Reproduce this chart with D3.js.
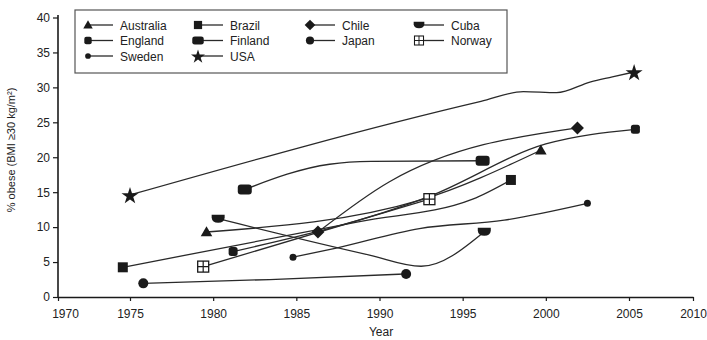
<!DOCTYPE html>
<html><head><meta charset="utf-8">
<script src="https://cdn.jsdelivr.net/npm/d3@7"></script>
<style>body{margin:0;background:#fff}svg{display:block}text{font-family:"Liberation Sans",Arial,sans-serif;fill:#222}</style>
</head><body>
<svg id="c" width="707" height="340"></svg>
<script>
// ---- data (year, % obese) ----
const countries = ["Australia","Brazil","Chile","Cuba","England","Finland","Japan","Norway","Sweden","USA"];
const markerTypes = ["triangle","square","diamond","cuba","england","finland","circle","norway","dot","star"];
const australia = [[1979.6,9.3],[1992.5,13.9],[1999.7,21.0]];
const brazil    = [[1974.5,4.25],[1988.8,10.8],[1995.6,14.0],[1997.9,16.75]];
const chile     = [[1986.3,9.3],[1990.6,16.5],[2001.9,24.2]];
const cuba      = [[1980.3,11.2],[1989.4,6.0],[1992.5,4.4],[1996.3,9.35]];
const england   = [[1981.2,6.5],[1993.0,14.4],[2000.0,21.9],[2005.5,24.0]];
const finland   = [[1981.9,15.4],[1987.0,19.0],[1989.5,19.4],[1996.2,19.5]];
const japan     = [[1975.8,1.95],[1983.4,2.5],[1991.6,3.3]];
const norway    = [[1979.4,4.35],[1993.0,14.0]];
const sweden    = [[1984.8,5.7],[1987.4,7.0],[1992.4,9.8],[1997.5,11.0],[2002.5,13.4]];
const usa       = [[1975,14.6],[1996.1,28.0],[1998.65,29.4],[2000.65,29.25],[2002.7,30.8],[2004.0,31.5],[2005.4,32.2]];
const seriesData = [australia,brazil,chile,cuba,england,finland,japan,norway,sweden,usa];
const xTicks = [1970,1975,1980,1985,1990,1995,2000,2005,2010];
const yTicks = [0,5,10,15,20,25,30,35,40];

// ---- scales ----
const svg = d3.select("#c");
const x = d3.scaleLinear().domain([1970,1975,2005,2010]).range([58,130,629,693]);
const y = d3.scaleLinear().domain([0,40]).range([297,17.5]);
const ink = "#1a1a1a";

// axes
const xAxis = svg.append("g").attr("transform","translate(0,297)")
  .call(d3.axisBottom(x).tickValues(xTicks).tickFormat(d3.format("d")).tickSize(4).tickSizeOuter(0).tickPadding(8));
const yAxis = svg.append("g").attr("transform","translate(58,0)")
  .call(d3.axisLeft(y).tickValues(yTicks).tickSize(5).tickSizeOuter(0).tickPadding(3));
[xAxis,yAxis].forEach(a=>{
  a.select(".domain").attr("stroke",ink).attr("stroke-width",1.6);
  a.selectAll(".tick line").attr("stroke",ink).attr("stroke-width",1.2);
  a.selectAll(".tick text").attr("font-size",12).attr("fill","#222");
});
xAxis.selectAll(".tick text").filter(d=>d===1970).attr("dx",7);
yAxis.select(".domain").attr("d","M0,15V297");

svg.append("text").attr("x",381).attr("y",336).attr("text-anchor","middle").attr("font-size",12).text("Year");
svg.append("text").attr("transform","translate(15,150) rotate(-90)").attr("text-anchor","middle")
  .attr("font-size",11).text("% obese (BMI \u226530 kg/m\u00b2)");

// markers
function marker(g, type){
  const f = ink;
  switch(type){
    case "triangle": g.append("path").attr("d",d3.symbol(d3.symbolTriangle,58)()).attr("fill",f).attr("transform","translate(0,1)"); break;
    case "square": g.append("rect").attr("x",-5).attr("y",-5).attr("width",10).attr("height",10).attr("fill",f); break;
    case "diamond": g.append("path").attr("d","M0,-6.5L6.5,0L0,6.5L-6.5,0Z").attr("fill",f); break;
    case "cuba": g.append("path").attr("d","M-6.5,-4H6.5V-1Q6,4 0,4Q-6,4 -6.5,-1Z").attr("fill",f); break;
    case "england": g.append("rect").attr("x",-4.5).attr("y",-4.5).attr("width",9).attr("height",9).attr("rx",2.5).attr("fill",f); break;
    case "finland": g.append("rect").attr("x",-7).attr("y",-5).attr("width",14).attr("height",10).attr("rx",3).attr("fill",f); break;
    case "circle": g.append("circle").attr("r",5).attr("fill",f); break;
    case "dot": g.append("circle").attr("r",3.5).attr("fill",f); break;
    case "norway":
      g.append("rect").attr("x",-5.5).attr("y",-5.5).attr("width",11).attr("height",11).attr("fill","#fff").attr("stroke",f).attr("stroke-width",1.3);
      g.append("path").attr("d","M0,-5.5V5.5M-5.5,0H5.5").attr("stroke",f).attr("stroke-width",1.2); break;
    case "star": g.append("path").attr("d",d3.symbol(d3.symbolStar,90)()).attr("fill",f).attr("transform","translate(0,1)"); break;
  }
}

// lines
const line = d3.line().x(d=>x(d[0])).y(d=>y(d[1])).curve(d3.curveMonotoneX);
const plot = svg.append("g");
seriesData.forEach((s,i)=>{
  plot.append("path").attr("d",line(s)).attr("fill","none").attr("stroke","#2a2a2a").attr("stroke-width",1.3);
});
seriesData.forEach((s,i)=>{
  [s[0], s[s.length-1]].forEach(p=>{
    const g = plot.append("g").attr("transform",`translate(${x(p[0])},${y(p[1])})`);
    marker(g, markerTypes[i]);
  });
});

// legend
const lg = svg.append("g");
lg.append("rect").attr("x",75).attr("y",10).attr("width",432).attr("height",63)
  .attr("fill","#fff").attr("stroke","#555").attr("stroke-width",1.2);
const colX = [88,198,310,419];
const rowY = [25,40.5,56];
countries.forEach((c,i)=>{
  const cx = colX[i%4], cy = rowY[Math.floor(i/4)];
  const g = lg.append("g").attr("transform",`translate(${cx},${cy})`);
  g.append("line").attr("x1",0).attr("x2",25).attr("y1",0).attr("y2",0).attr("stroke","#2a2a2a").attr("stroke-width",1.3);
  marker(g.append("g").attr("transform","scale(0.82)"), markerTypes[i]);
  g.append("text").attr("x",32).attr("y",4.5).attr("font-size",12).text(c);
});
</script>
</body></html>
